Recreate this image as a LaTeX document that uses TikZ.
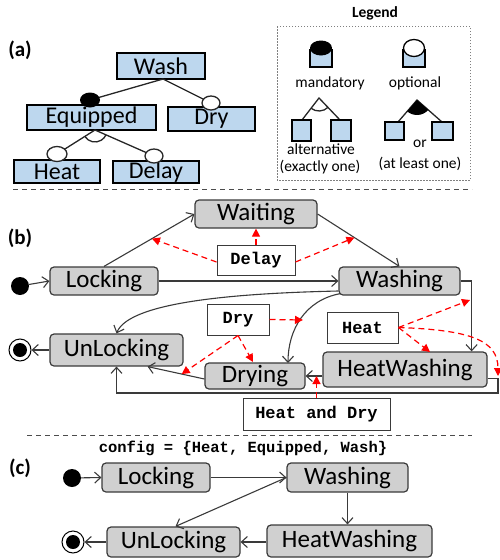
\documentclass[tikz,border=0pt]{standalone}
\usepackage{fontspec}
\setmainfont{Carlito}
\setmonofont{Liberation Mono}
\usetikzlibrary{arrows.meta,calc}
\definecolor{featblue}{HTML}{BDD7EE}
\definecolor{stategray}{HTML}{D0D0D0}
\definecolor{edgegray}{HTML}{3A3A3A}
\tikzset{
  statebox/.style={draw=edgegray, fill=stategray, rounded corners=4pt, line width=1.2pt, inner sep=0pt, font=\fontsize{25}{27}\selectfont},
  featbox/.style={draw=black, fill=featblue, line width=2.2pt, inner sep=0pt, font=\fontsize{24}{26}\selectfont},
  condbox/.style={draw=edgegray, fill=white, line width=1pt, inner sep=0pt, font=\fontsize{17}{19}\selectfont\ttfamily\bfseries},
  trans/.style={draw=edgegray, line width=1.1pt, -{Straight Barb[length=6pt,width=11pt,line width=1.1pt]}},
  dep/.style={draw=red, line width=1.2pt, dash pattern=on 6pt off 4pt, -{Triangle[length=8pt,width=8pt,fill=red]}},
  featline/.style={draw=black!85, line width=1.3pt},
  sep/.style={draw=black!70, line width=1pt, dash pattern=on 5pt off 4pt},
  lbl/.style={font=\fontsize{21}{23}\selectfont\bfseries},
  leg/.style={font=\fontsize{15.5}{17}\selectfont, inner sep=0pt, align=center},
  dot/.style={circle, fill=black, inner sep=0pt, minimum size=18pt},
}
\begin{document}
\begin{tikzpicture}[x=1pt,y=1pt]
\useasboundingbox (0,0) rectangle (500,-560);

% ---------------- (a) feature model ----------------
\node[lbl] (la) at (20,-50) {(a)};
\node[featbox, minimum width=88pt, minimum height=26pt] (fWash) at (161,-66) {Wash};
\node[featbox, minimum width=129pt, minimum height=25pt] (fEquipped) at (91.5,-117.5) {Equipped};
\node[featbox, minimum width=87pt, minimum height=24pt] (fDry) at (211.5,-119) {Dry};
\node[featbox, minimum width=86pt, minimum height=23pt] (fHeat) at (57,-171.5) {Heat};
\node[featbox, minimum width=86pt, minimum height=22pt] (fDelay) at (156,-172) {Delay};
\coordinate (wRoot) at (163,-79);
\coordinate (eRoot) at (95,-130);
\coordinate (cEq) at (90,-100);
\coordinate (cDry) at (211,-103);
\coordinate (cHeat) at (57,-154);
\coordinate (cDelay) at (154,-156);
\draw[featline] (wRoot) -- (cEq);
\draw[featline] (wRoot) -- (cDry);
\draw[featline] (eRoot) -- (cHeat);
\draw[featline] (eRoot) -- (cDelay);
\draw[featline] (eRoot) ++(212:12) arc[start angle=212, end angle=336, radius=12];
\fill[black] (cEq) ellipse[x radius=10, y radius=7.5];
\draw[featline, fill=white] (cDry) ellipse[x radius=9, y radius=7];
\draw[featline, fill=white] (cHeat) ellipse[x radius=10, y radius=7.5];
\draw[featline, fill=white] (cDelay) ellipse[x radius=9, y radius=7];

% ---------------- legend ----------------
\node[font=\fontsize{15.5}{17}\selectfont\bfseries] (legT) at (375,-13) {Legend};
\draw[gray, line width=0.8pt, dash pattern=on 1.5pt off 1.5pt] (277,-26) rectangle (470,-180);
% mandatory
\draw[black, fill=featblue, line width=2pt] (310,-50) rectangle (332,-67);
\fill[black] (321,-48) ellipse[x radius=11, y radius=7.5];
\node[leg] (lMand) at (330,-83) {mandatory};
% optional
\draw[black, fill=featblue, line width=2pt] (403,-50) rectangle (425,-67);
\draw[black, fill=white, line width=1.3pt] (414,-48) ellipse[x radius=10.5, y radius=8.5];
\node[leg] (lOpt) at (415,-83) {optional};
% alternative
\draw[featline] (302,-120) -- (319,-98) -- (340,-120);
\draw[featline] (319,-98) ++(231:13) arc[start angle=231, end angle=315, radius=13];
\draw[black, fill=featblue, line width=2pt] (292,-120) rectangle (311,-141);
\draw[black, fill=featblue, line width=2pt] (331,-120) rectangle (351,-141);
\node[leg] (lAlt) at (321,-149) {alternative};
\node[leg] (lAlt2) at (320,-167) {(exactly one)};
% or
\draw[featline] (398,-122) -- (417,-100) -- (442,-122);
\fill[black] (417,-100) -- ++(229:15) arc[start angle=229, end angle=319, radius=15] -- cycle;
\draw[black, fill=featblue, line width=2pt] (385,-122) rectangle (404,-140);
\draw[black, fill=featblue, line width=2pt] (432,-122) rectangle (453,-140);
\node[leg] (lOr) at (420,-144) {or};
\node[leg] (lOr2) at (420,-164) {(at least one)};

\draw[sep] (13,-189) -- (472,-189);

% ---------------- (b) ----------------
\node[lbl] (lb) at (20,-238) {(b)};
\node[statebox, minimum width=122pt, minimum height=28pt] (Waiting) at (256,-214) {Waiting};
\node[statebox, minimum width=108pt, minimum height=28pt] (Locking) at (104,-281) {Locking};
\node[statebox, minimum width=121pt, minimum height=28pt] (Washing) at (399.5,-281) {Washing};
\node[statebox, minimum width=133pt, minimum height=32pt] (UnLocking) at (116.5,-350) {UnLocking};
\node[statebox, minimum width=100pt, minimum height=26pt] (Drying) at (255,-376) {Drying};
\node[statebox, minimum width=164pt, minimum height=35pt] (HeatWashing) at (405,-369.5) {HeatWashing};
\node[dot] (init) at (20,-286) {};
\node[circle, draw=black, line width=1pt, fill=white, minimum size=22pt, inner sep=0pt] (final) at (20,-350) {};
\node[circle, fill=black, minimum size=14pt, inner sep=0pt] (finalIn) at (final.center) {};

\node[condbox, minimum width=78pt, minimum height=30pt] (cDelayB) at (256,-260) {Delay};
\node[condbox, minimum width=62pt, minimum height=31pt] (cDryB) at (238,-319.5) {Dry};
\node[condbox, minimum width=71pt, minimum height=31pt] (cHeatB) at (362.5,-327.5) {Heat};
\node[condbox, minimum width=147pt, minimum height=32pt] (cHD) at (316.5,-414) {Heat and Dry};

\draw[trans] (init) -- (Locking.west);
\draw[trans] (Locking.north) -- (Waiting.west);
\draw[trans] (Waiting.east) -- (Washing.north);
\draw[trans] (Locking.east) -- (Washing.west);
\draw[trans] ($(Washing.west)+(0,-10)$) .. controls (250,-293) and (130,-300) .. (UnLocking.north);
\draw[trans] ($(Washing.south west)+(2,2)$) .. controls (305,-300) and (288,-330) .. (288,-363);
\coordinate (wdArrow) at (303,-320);
\draw[trans] (Washing.east) -| ($(HeatWashing.north east)+(-16,0)$);
\coordinate (hwEast) at ($(HeatWashing.east)+(0,-9)$);
\coordinate (hwCorner) at (498,-393);
\draw[trans] (hwEast) -- (hwEast -| hwCorner) -- (hwCorner) -| (UnLocking.south);
\draw[trans] (HeatWashing.west |- Drying.east) -- (Drying.east);
\coordinate (dryFrom) at ($(Drying.west)+(0,-3)$);
\coordinate (dryTo) at ($(UnLocking.south east)+(-36,0)$);
\draw[trans] (dryFrom) -- (dryTo);
\draw[trans] (UnLocking.west) -- (final);

% red dependencies
\draw[dep] ($(cDelayB.west)+(0,-2)$) -- ($(Locking.north)!0.53!(Waiting.west)$);
\draw[dep] (cDelayB.north -| Waiting.south) -- (Waiting.south);
\draw[dep] ($(cDelayB.east)+(0,-2)$) -- ($(Waiting.east)!0.45!(Washing.north)$);
\draw[dep] (cDryB.east) -- (wdArrow);
\draw[dep] (cDryB.south) -- (253,-362);
\draw[dep] (cDryB.south) -- ($(dryFrom)!0.4!(dryTo)$);
\draw[dep] (cHeatB.east) -- (470,-300);
\draw[dep] (cHeatB.east) -- (430,-352);
\draw[dep] (cHeatB.east) .. controls (470,-330) and (498,-340) .. (498,-376);
\draw[dep] (cHD.north) -- (cHD.north |- Drying.east);

\draw[sep] (27,-435) -- (472,-435);

% ---------------- (c) ----------------
\node[font=\fontsize{15.5}{17}\selectfont\ttfamily\bfseries] (cfg) at (243,-448) {config = \{Heat, Equipped, Wash\}};
\node[lbl] (lc) at (20,-468) {(c)};
\node[dot] (initC) at (72,-478) {};
\node[statebox, minimum width=108pt, minimum height=29pt] (LockingC) at (156,-477.5) {Locking};
\node[statebox, minimum width=121pt, minimum height=29pt] (WashingC) at (347.5,-477.5) {Washing};
\node[statebox, minimum width=133pt, minimum height=30pt] (UnLockingC) at (173.5,-542) {UnLocking};
\node[statebox, minimum width=165pt, minimum height=32pt] (HeatWashingC) at (349.5,-541) {HeatWashing};
\node[circle, draw=black, line width=1pt, fill=white, minimum size=22pt, inner sep=0pt] (finalC) at (73,-542) {};
\node[circle, fill=black, minimum size=14pt, inner sep=0pt] (finalCIn) at (finalC.center) {};

\draw[trans] (initC) -- (LockingC.west);
\draw[trans] (LockingC.east) -- (WashingC.west);
\draw[trans] (WashingC.west) -- ($(UnLockingC.north)+(2,0)$);
\draw[trans] (WashingC.south) -- (WashingC.south |- HeatWashingC.north);
\draw[trans] (HeatWashingC.west |- UnLockingC.east) -- (UnLockingC.east);
\draw[trans] (UnLockingC.west) -- (finalC);
\end{tikzpicture}
\end{document}
